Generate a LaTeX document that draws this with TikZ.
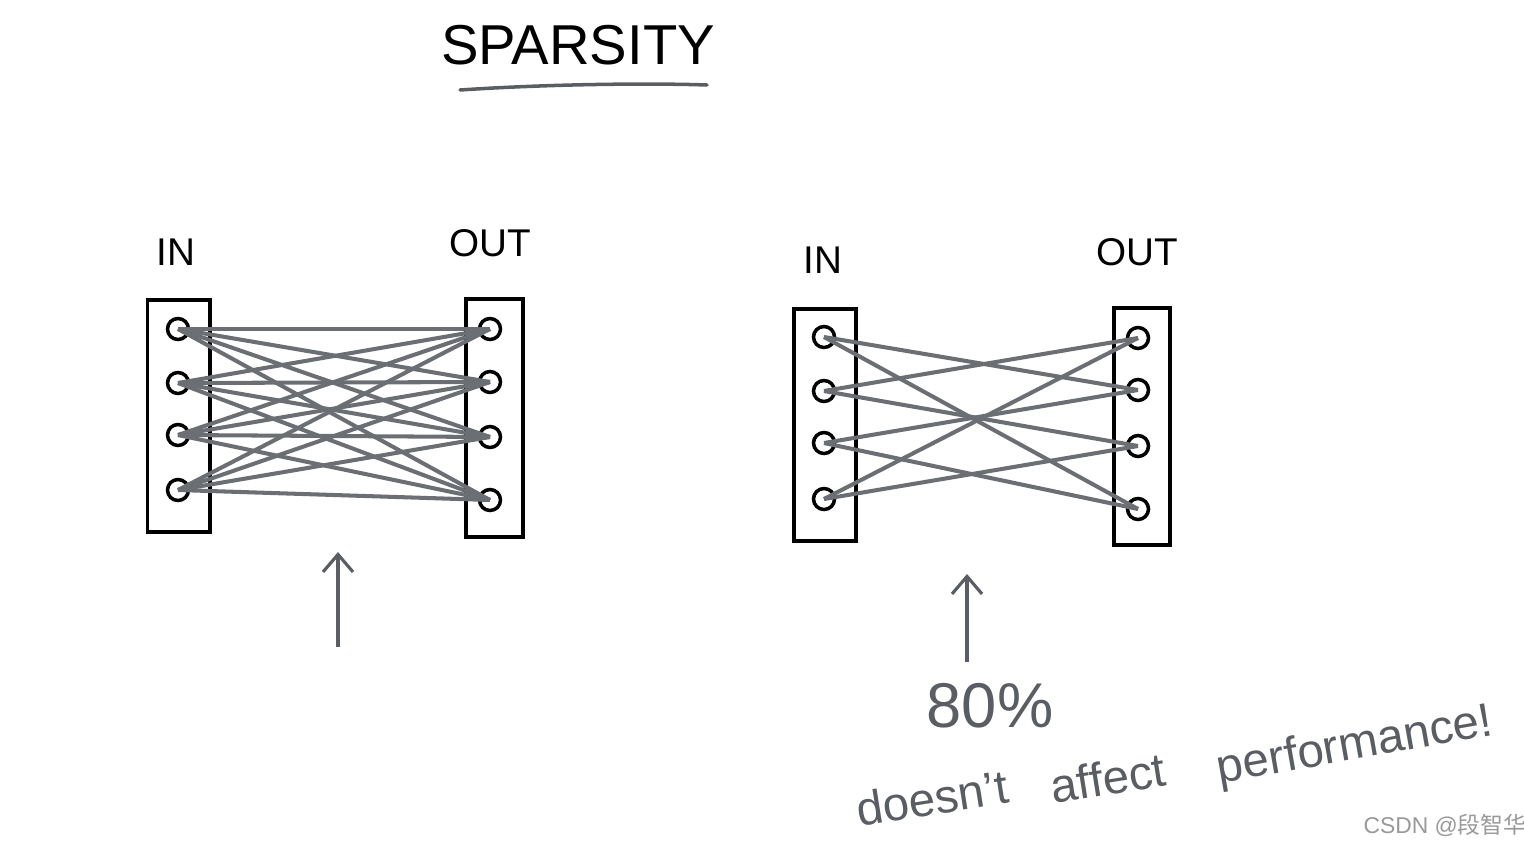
\documentclass[tikz,border=0pt]{standalone}
\usepackage{fontspec}
\setmainfont{Liberation Sans}
\newfontfamily\cjkfont{Noto Sans CJK SC}
\usetikzlibrary{arrows.meta}
\definecolor{wire}{HTML}{6B6E73}
\definecolor{pencil}{HTML}{5A5D62}
\begin{document}
\begin{tikzpicture}[x=0.02cm,y=-0.02cm,panel/.style={draw=black,line width=2pt,minimum width=1.25cm,inner sep=0pt},port/.style={circle,draw=black,line width=2pt,minimum size=0.42cm,inner sep=0pt},link/.style={draw=wire,line width=2.3pt},label/.style={font=\fontsize{22}{26}\selectfont},title/.style={font=\fontsize{32}{36}\selectfont},note/.style={text=pencil,font=\fontsize{27}{32}\selectfont,inner sep=1pt},arrow/.style={draw=pencil,line width=1.8pt,-{Straight Barb[length=3.5mm,width=6mm]}}]
\useasboundingbox (0,0) rectangle (1524,842);
\node[title] (sparsity) at (578,45) {SPARSITY};
\coordinate (ulA) at (460,90);\coordinate (ulB) at (707,85);
\draw[pencil,line width=2pt,line cap=round] (ulA) .. controls (550,84) and (650,83) .. (ulB);
% dense network
\node[panel, minimum height=4.64cm] (boxInA) at (178.5,416) {};
\node[panel, minimum width=1.14cm, minimum height=4.76cm] (boxOutA) at (494.5,418) {};
\node[label] (labInA) at (176,252) {IN};
\node[label] (labOutA) at (490,243) {OUT};
\node[port] (inA1) at (178,329) {};\node[port] (inA2) at (178,383) {};\node[port] (inA3) at (178,435) {};\node[port] (inA4) at (178,490) {};
\node[port] (outA1) at (490,329) {};\node[port] (outA2) at (490,382) {};\node[port] (outA3) at (490,437) {};\node[port] (outA4) at (490,500) {};
\draw[link] (inA1.center) -- (outA1.center);\draw[link] (inA1.center) -- (outA2.center);\draw[link] (inA1.center) -- (outA3.center);\draw[link] (inA1.center) -- (outA4.center);
\draw[link] (inA2.center) -- (outA1.center);\draw[link] (inA2.center) -- (outA2.center);\draw[link] (inA2.center) -- (outA3.center);\draw[link] (inA2.center) -- (outA4.center);
\draw[link] (inA3.center) -- (outA1.center);\draw[link] (inA3.center) -- (outA2.center);\draw[link] (inA3.center) -- (outA3.center);\draw[link] (inA3.center) -- (outA4.center);
\draw[link] (inA4.center) -- (outA1.center);\draw[link] (inA4.center) -- (outA2.center);\draw[link] (inA4.center) -- (outA3.center);\draw[link] (inA4.center) -- (outA4.center);
\coordinate (tailA) at (338,647);\coordinate (tipA) at (338,552);
\draw[arrow] (tailA) -- (tipA);
% sparse network
\node[panel, minimum height=4.64cm] (boxInB) at (825,425) {};
\node[panel, minimum width=1.12cm, minimum height=4.74cm] (boxOutB) at (1142,426.5) {};
\node[label] (labInB) at (823,260) {IN};
\node[label] (labOutB) at (1137,252) {OUT};
\node[port] (inB1) at (824,337) {};\node[port] (inB2) at (824,391) {};\node[port] (inB3) at (824,443) {};\node[port] (inB4) at (824,499) {};
\node[port] (outB1) at (1138,338) {};\node[port] (outB2) at (1138,390) {};\node[port] (outB3) at (1138,446) {};\node[port] (outB4) at (1138,509) {};
\draw[link] (inB1.center) -- (outB2.center);\draw[link] (inB1.center) -- (outB4.center);
\draw[link] (inB2.center) -- (outB1.center);\draw[link] (inB2.center) -- (outB3.center);
\draw[link] (inB3.center) -- (outB2.center);\draw[link] (inB3.center) -- (outB4.center);
\draw[link] (inB4.center) -- (outB1.center);\draw[link] (inB4.center) -- (outB3.center);
\coordinate (tailB) at (967,662);\coordinate (tipB) at (967,574);
\draw[arrow] (tailB) -- (tipB);
\node[note, font=\fontsize{36}{40}\selectfont] (ratio) at (990,706) {80\%};
\node[note, rotate=9] (claimA) at (932,798) {doesn't};
\node[note, rotate=9] (claimB) at (1108,778) {affect};
\node[note, rotate=10] (claimC) at (1355,747) {performance!};
\node[text=gray!80, font=\fontsize{13}{15}\selectfont] (mark) at (1445,825) {CSDN @{\cjkfont 段智华}};
\end{tikzpicture}
\end{document}
